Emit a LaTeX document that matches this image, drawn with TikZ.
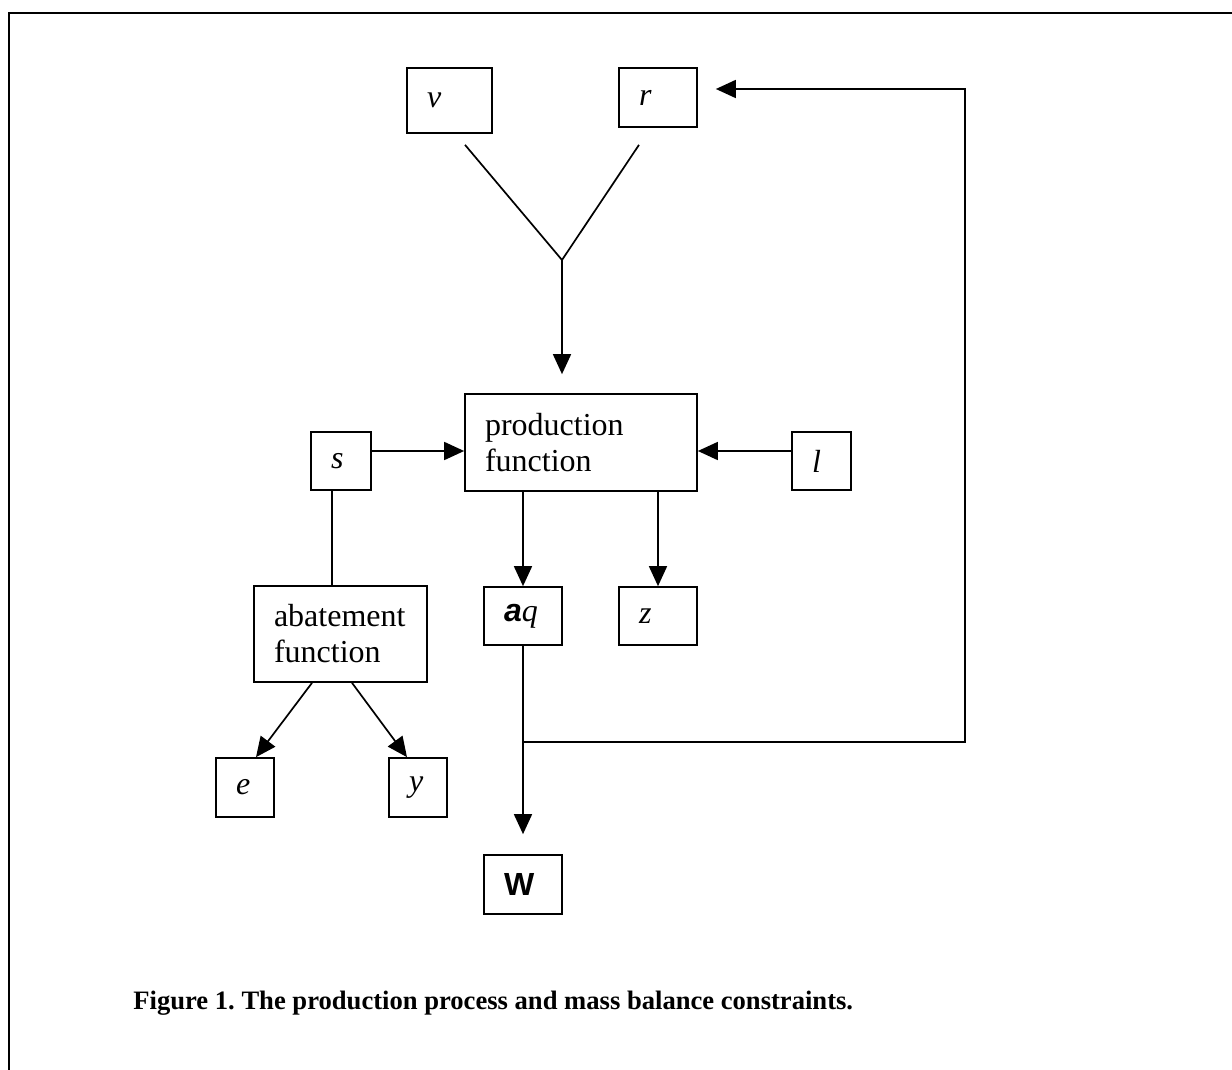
\documentclass[tikz,border=0pt]{standalone}
\usepackage{fontspec}
\setmainfont{Liberation Serif}
\setsansfont{Liberation Sans}
\usetikzlibrary{arrows.meta,calc}
\frenchspacing
\tikzset{
	box/.style={draw, line width=0.85pt, inner xsep=10pt, inner ysep=0pt, align=left},
	link/.style={line width=0.85pt},
	flow/.style={line width=0.85pt, -{Triangle[length=10pt,width=9pt]}}
}
\begin{document}
\begin{tikzpicture}[x=0.5pt,y=-0.5pt,every node/.style={font=\fontsize{16}{18}\selectfont}]
	\useasboundingbox (0,0) rectangle (1232,1070);
	\draw[line width=1.2pt] (9,1070) -- (9,13) -- (1232,13);
	\node[box, text width=22.5pt, minimum height=32.5pt] (v) at (449.5,100.5) {\textit{v}};
	\node[box, text width=19pt, minimum height=29.5pt] (r) at (658,97.5) {\textit{r}};
	\coordinate (fork) at (562,260);
	\draw[style=link] ([shift={(15.5,11)}]v.south) -- (fork);
	\draw[style=link] ([shift={(-19,17)}]r.south) -- (fork);
	\node[box, text width=96pt, minimum height=48.5pt] (prod) at (581,442.5) {production\\function};
	\draw[style=flow, shorten >=9.5pt] (fork) -- (fork |- prod.north);
	\node[box, text width=10pt, minimum height=29pt] (s) at (341,461) {\textit{s}};
	\coordinate (sarr) at ([yshift=5pt]s.east);
	\draw[style=flow] (sarr) -- (sarr -| prod.west);
	\node[box, text width=9.5pt, minimum height=29pt] (l) at (821.5,461) {\textit{l}};
	\coordinate (larr) at ([yshift=5pt]l.west);
	\draw[style=flow] (larr) -- (larr -| prod.east);
	\node[box, text width=66.5pt, minimum height=48pt] (abate) at (340.5,634) {abatement\\function};
	\coordinate (sdown) at ([xshift=-4.5pt]s.south);
	\draw[style=link] (sdown) -- (sdown |- abate.north);
	\node[box, text width=19pt, minimum height=29pt] (aq) at (523,616) {{\sffamily\bfseries\itshape a}\textit{q}};
	\draw[style=flow] (aq.north |- prod.south) -- (aq.north);
	\node[box, text width=19pt, minimum height=29pt] (z) at (658,616) {\textit{z}};
	\draw[style=flow] (z.north |- prod.south) -- (z.north);
	\node[box, text width=9pt, minimum height=29.5pt] (e) at (245,787.5) {\textit{e}};
	\draw[style=flow] ([xshift=-14.25pt]abate.south) -- ([xshift=5.5pt]e.north);
	\node[box, text width=9pt, minimum height=29.5pt] (y) at (418,787.5) {\textit{y}};
	\draw[style=flow] ([xshift=5.75pt]abate.south) -- ([xshift=-5.5pt]y.north);
	\node[box, text width=19pt, minimum height=29.5pt] (W) at (523,884.5) {\sffamily\bfseries W};
	\coordinate (jn) at ($(aq.south)+(0,96)$);
	\draw[style=link] (aq.south) -- (jn);
	\draw[style=flow, shorten >=10pt] (jn) -- (W.north);
	\coordinate (looptop) at (965,89);
	\draw[style=flow, shorten >=9pt] (jn) -| (looptop) -- (looptop -| r.east);
	\node[anchor=base west, inner sep=0pt, font=\fontsize{13.3}{16}\selectfont\bfseries] (caption) at (133,1009) {Figure 1. The production process and mass balance constraints.};
\end{tikzpicture}
\end{document}
